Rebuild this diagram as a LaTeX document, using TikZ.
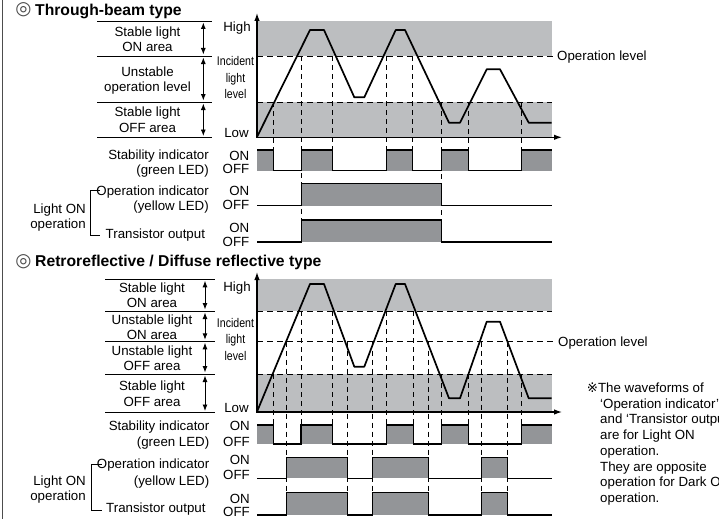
\documentclass[tikz,border=0pt]{standalone}
\usepackage{fontspec}
\setmainfont{Liberation Sans}
\newfontfamily\dejavu{DejaVu Sans}
\usetikzlibrary{arrows.meta}
\definecolor{bandgray}{HTML}{BCBEC0}
\definecolor{indgray}{HTML}{939598}
\definecolor{framegray}{HTML}{4D4D4D}
\newcommand{\narrowtxt}[1]{\scalebox{0.84}[1]{#1}}
\begin{document}
\begin{tikzpicture}[x=1pt,y=-1pt,
  txt/.style={inner sep=0pt,font=\fontsize{13.3}{16}\selectfont},
  smalltxt/.style={inner sep=0pt,font=\fontsize{12.6}{14}\selectfont},
  ttl/.style={inner sep=0pt,font=\fontsize{15.7}{18}\selectfont\bfseries},
  sym/.style={inner sep=0pt,text=black!70,font=\dejavu\fontsize{18.5}{20}\selectfont},
  band/.style={fill=bandgray},
  ind/.style={fill=indgray},
  wave/.style={line width=1.7pt,line join=round},
  axis/.style={line width=1.2pt,-{Latex[length=8pt,width=5.5pt]}},
  thr/.style={line width=1pt,dash pattern=on 6pt off 4pt},
  vdash/.style={line width=0.9pt,dash pattern=on 5pt off 4pt},
  sig/.style={line width=1.1pt},
  tabline/.style={line width=0.9pt},
  dbl/.style={line width=0.9pt,{Latex[length=6.5pt,width=5pt]}-{Latex[length=6.5pt,width=5pt]},shorten <=1.5pt,shorten >=1.5pt},
  brk/.style={line width=0.8pt}
]
\useasboundingbox (0,0) rectangle (719,519);
\clip (0,0) rectangle (719,519);
\fill[white] (0,0) rectangle (719,519);
% left frame
\draw[framegray,line width=1.6pt] (2.5,0) -- (2.5,519);

% ================= SECTION 1 =================
\node[sym] (t1s) at (23.5,10) {◎};
\node[ttl,anchor=base west] (t1) at (35,16) {Through-beam type};

% table
\draw[tabline] (97,21) -- (212,21);
\draw[tabline] (97,56) -- (212,56);
\draw[tabline] (97,102) -- (212,102);
\draw[tabline] (97,137.5) -- (212,137.5);
\draw[dbl] (203.3,21) -- (203.3,56);
\draw[dbl] (203.3,56) -- (203.3,102);
\draw[dbl] (203.3,102) -- (203.3,137.5);
\node[txt,anchor=base] (a1) at (147.5,36.7) {Stable light};
\node[txt,anchor=base] (a2) at (147.5,51.7) {ON area};
\node[txt,anchor=base] (a3) at (147.5,76) {Unstable};
\node[txt,anchor=base] (a4) at (147.5,91.7) {operation level};
\node[txt,anchor=base] (a5) at (147.5,116.7) {Stable light};
\node[txt,anchor=base] (a6) at (147.5,132.7) {OFF area};
\node[txt,anchor=base] (hi1) at (237,31.7) {High};
\node[txt,anchor=base] (lo1) at (236.5,137.8) {Low};
\node[smalltxt,anchor=base] (il1) at (235.5,65.7) {\narrowtxt{Incident}};
\node[smalltxt,anchor=base] (il2) at (235.5,82.3) {\narrowtxt{light}};
\node[smalltxt,anchor=base] (il3) at (235.5,98.8) {\narrowtxt{level}};

% bands
\fill[band] (257,20.7) rectangle (551.7,56);
\fill[band] (257,102) rectangle (551.7,137.3);
% thresholds
\draw[thr] (257,56) -- (553,56);
\draw[thr] (257,102) -- (551.7,102);
\node[txt,anchor=base west] (op1) at (557,60.5) {Operation level};
% vertical dashed
\foreach \xx in {332.7,386.7,412.7} \draw[vdash] (\xx,56) -- (\xx,150);
\foreach \xx in {273.3,468.3,521.7} \draw[vdash] (\xx,102) -- (\xx,150);
\draw[vdash] (301.7,56) -- (301.7,220);
\draw[vdash] (441.7,102) -- (441.7,220);
% waveform
\draw[wave] (257,137) -- (310,30) -- (324,30) -- (354.3,97.3) -- (364.3,97.3) -- (395.7,30) -- (405,30) -- (449,122.7) -- (460,122.7) -- (486.7,69.3) -- (500,69.3) -- (528.7,122.7) -- (551.7,122.7);
% axes
\draw[axis] (257,137.3) -- (257,13);
\draw[axis] (256.4,137.3) -- (562,137.3);

% stability indicator
\fill[ind] (257,150) rectangle (273.3,170.5);
\fill[ind] (301.7,150) rectangle (332.7,170.5);
\fill[ind] (386.7,150) rectangle (412.7,170.5);
\fill[ind] (441.7,150) rectangle (468.3,170.5);
\fill[ind] (521.7,150) rectangle (551.7,170.5);
\draw[sig] (257,150) -- (273.3,150) -- (273.3,170.5) -- (301.7,170.5) -- (301.7,150) -- (332.7,150) -- (332.7,170.5) -- (386.7,170.5) -- (386.7,150) -- (412.7,150) -- (412.7,170.5) -- (441.7,170.5) -- (441.7,150) -- (468.3,150) -- (468.3,170.5) -- (521.7,170.5) -- (521.7,150) -- (551.7,150);
% operation indicator
\fill[ind] (301.7,183.5) rectangle (441.7,205.5);
\draw[sig] (257,205.5) -- (301.7,205.5) -- (301.7,183.5) -- (441.7,183.5) -- (441.7,205.5) -- (551.7,205.5);
% transistor output
\fill[ind] (301.7,220) rectangle (441.7,242);
\draw[sig] (257,242) -- (301.7,242) -- (301.7,220) -- (441.7,220) -- (441.7,242) -- (551.7,242);

% labels
\node[txt,anchor=base east] (si1) at (209,159.3) {Stability indicator};
\node[txt,anchor=base east] (si2) at (209,174.3) {(green LED)};
\node[txt,anchor=base east] (oi1) at (209,195) {Operation indicator};
\node[txt,anchor=base east] (oi2) at (209,210.7) {(yellow LED)};
\node[txt,anchor=base west] (to1) at (105.5,238.3) {Transistor output};
\node[txt,anchor=base east] (son1) at (249.5,160) {ON};
\node[txt,anchor=base east] (sof1) at (249.5,173.5) {OFF};
\node[txt,anchor=base east] (oon1) at (249.5,195) {ON};
\node[txt,anchor=base east] (oof1) at (249.5,209) {OFF};
\node[txt,anchor=base east] (ton1) at (249.5,232.7) {ON};
\node[txt,anchor=base east] (tof1) at (249.5,246) {OFF};
\node[txt,anchor=base east] (lo1a) at (86,213.3) {Light ON};
\node[txt,anchor=base east] (lo1b) at (86,228.3) {operation};
\draw[brk] (100,190.7) -- (90.7,190.7) -- (90.7,235) -- (100,235);

% ================= SECTION 2 =================
\node[sym] (t2s) at (23.5,261.3) {◎};
\node[ttl,anchor=base west] (t2) at (35,266.7) {Retroreflective / Diffuse reflective type};

\draw[tabline] (105,279.3) -- (215,279.3);
\draw[tabline] (105,311) -- (215,311);
\draw[tabline] (105,341.3) -- (215,341.3);
\draw[tabline] (105,374) -- (215,374);
\draw[tabline] (105,412.5) -- (215,412.5);
\draw[dbl] (205,279.3) -- (205,311);
\draw[dbl] (205,311) -- (205,341.3);
\draw[dbl] (205,341.3) -- (205,374);
\draw[dbl] (205,374) -- (205,412.5);
\node[txt,anchor=base] (b1) at (152,292.7) {Stable light};
\node[txt,anchor=base] (b2) at (152,307.3) {ON area};
\node[txt,anchor=base] (b3) at (152,324) {Unstable light};
\node[txt,anchor=base] (b4) at (152,339) {ON area};
\node[txt,anchor=base] (b5) at (152,355.7) {Unstable light};
\node[txt,anchor=base] (b6) at (152,370.7) {OFF area};
\node[txt,anchor=base] (b7) at (152,390.7) {Stable light};
\node[txt,anchor=base] (b8) at (152,406.7) {OFF area};
\node[txt,anchor=base] (hi2) at (237,291.7) {High};
\node[txt,anchor=base] (lo2) at (236.5,412.5) {Low};
\node[smalltxt,anchor=base] (jl1) at (235.5,327.3) {\narrowtxt{Incident}};
\node[smalltxt,anchor=base] (jl2) at (235.5,343.5) {\narrowtxt{light}};
\node[smalltxt,anchor=base] (jl3) at (235.5,360) {\narrowtxt{level}};

\fill[band] (257,279.3) rectangle (551.7,311);
\fill[band] (257,374.3) rectangle (551.7,411.7);
\draw[thr] (257,311) -- (551.7,311);
\draw[thr] (257,341.7) -- (553,341.7);
\draw[thr] (257,374.3) -- (551.7,374.3);
\node[txt,anchor=base west] (op2) at (558,346.2) {Operation level};
\foreach \xx in {301,332.7,386.7,413.3} \draw[vdash] (\xx,311) -- (\xx,425);
\foreach \xx in {273.3,441.7,468.3,521.7} \draw[vdash] (\xx,374.3) -- (\xx,425);
\foreach \xx in {286.7,347.3,372.3,428.3,481.7,507.7} \draw[vdash] (\xx,341.7) -- (\xx,492.7);
\draw[wave] (257,411.7) -- (310,284) -- (324,284) -- (354.3,366.7) -- (364.3,366.7) -- (395.7,284) -- (405,284) -- (449,398.3) -- (460,398.3) -- (486.7,321.7) -- (500,321.7) -- (528.7,398.3) -- (551.7,398.3);
\draw[axis] (257,412) -- (257,272);
\draw[axis] (256.4,412) -- (562,412);

% stability
\fill[ind] (257,425) rectangle (273.3,444);
\fill[ind] (301,425) rectangle (332.7,444);
\fill[ind] (386.7,425) rectangle (413.3,444);
\fill[ind] (441.7,425) rectangle (468.3,444);
\fill[ind] (521.7,425) rectangle (551.7,444);
\draw[sig] (257,425) -- (273.3,425) -- (273.3,444) -- (301,444) -- (301,425) -- (332.7,425) -- (332.7,444) -- (386.7,444) -- (386.7,425) -- (413.3,425) -- (413.3,444) -- (441.7,444) -- (441.7,425) -- (468.3,425) -- (468.3,444) -- (521.7,444) -- (521.7,425) -- (551.7,425);
% operation
\fill[ind] (286.7,457.7) rectangle (347.3,478.3);
\fill[ind] (372.3,457.7) rectangle (428.3,478.3);
\fill[ind] (481.7,457.7) rectangle (507.7,478.3);
\draw[sig] (257,478.3) -- (286.7,478.3) -- (286.7,457.7) -- (347.3,457.7) -- (347.3,478.3) -- (372.3,478.3) -- (372.3,457.7) -- (428.3,457.7) -- (428.3,478.3) -- (481.7,478.3) -- (481.7,457.7) -- (507.7,457.7) -- (507.7,478.3) -- (551.7,478.3);
% transistor
\fill[ind] (286.7,492.7) rectangle (347.3,515);
\fill[ind] (372.3,492.7) rectangle (428.3,515);
\fill[ind] (481.7,492.7) rectangle (507.7,515);
\draw[sig] (257,515) -- (286.7,515) -- (286.7,492.7) -- (347.3,492.7) -- (347.3,515) -- (372.3,515) -- (372.3,492.7) -- (428.3,492.7) -- (428.3,515) -- (481.7,515) -- (481.7,492.7) -- (507.7,492.7) -- (507.7,515) -- (551.7,515);

\node[txt,anchor=base east] (si3) at (209.5,430.7) {Stability indicator};
\node[txt,anchor=base east] (si4) at (209.5,446.7) {(green LED)};
\node[txt,anchor=base east] (oi3) at (209.5,468.3) {Operation indicator};
\node[txt,anchor=base east] (oi4) at (209.5,485) {(yellow LED)};
\node[txt,anchor=base west] (to2) at (106,512.7) {Transistor output};
\node[txt,anchor=base east] (son2) at (250,430.7) {ON};
\node[txt,anchor=base east] (sof2) at (250,446) {OFF};
\node[txt,anchor=base east] (oon2) at (250,464) {ON};
\node[txt,anchor=base east] (oof2) at (250,479) {OFF};
\node[txt,anchor=base east] (ton2) at (250,503.3) {ON};
\node[txt,anchor=base east] (tof2) at (250,516.7) {OFF};
\node[txt,anchor=base east] (lo2a) at (86,485) {Light ON};
\node[txt,anchor=base east] (lo2b) at (86,500) {operation};
\draw[brk] (101.5,464) -- (91.7,464) -- (91.7,510) -- (101.5,510);

% note
\node[txt,anchor=base west] (n1) at (586.7,392.5) {{\dejavu ※}The waveforms of};
\node[txt,anchor=base west] (n2) at (600,408.2) {‘Operation indicator’};
\node[txt,anchor=base west] (n3) at (600,423.9) {and ‘Transistor output’};
\node[txt,anchor=base west] (n4) at (600,439.6) {are for Light ON};
\node[txt,anchor=base west] (n5) at (600,455.3) {operation.};
\node[txt,anchor=base west] (n6) at (600,471) {They are opposite};
\node[txt,anchor=base west] (n7) at (600,486.7) {operation for Dark ON};
\node[txt,anchor=base west] (n8) at (600,502.4) {operation.};
\end{tikzpicture}
\end{document}
